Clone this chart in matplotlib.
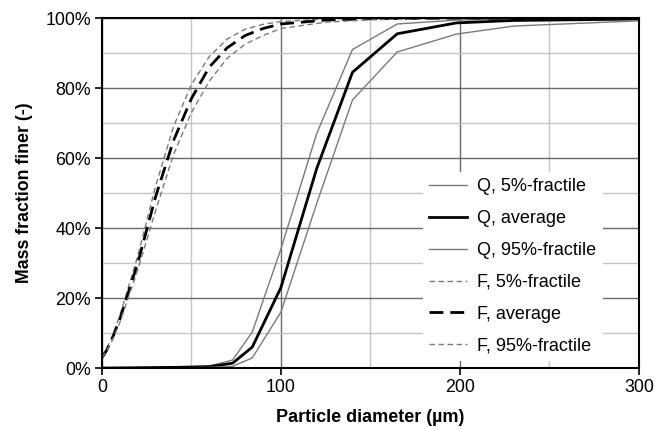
import numpy as np
import matplotlib.pyplot as plt
from matplotlib.ticker import MultipleLocator, PercentFormatter

plt.rcParams['font.family'] = ['Liberation Sans', 'DejaVu Sans']
plt.rcParams['font.size'] = 12.8

# Q (coarse) grading curves
q_x = [0, 20, 40, 60, 73, 84, 100, 120, 140, 165, 198, 230, 300]
q_p05 = [0, 0.1, 0.3, 0.6, 2.3, 10.3, 34, 67, 91, 98.3, 99.4, 99.7, 100]
q_avg = [0, 0.1, 0.2, 0.4, 1.4, 6, 23, 57, 84.5, 95.5, 98.6, 99.3, 99.7]
q_p95 = [0, 0, 0.1, 0.2, 0.5, 2.9, 16, 47, 76.6, 90.3, 95.4, 97.7, 99.2]

# F (fine) grading curves
f_x = [0, 2, 5, 10, 20, 30, 40, 50, 60, 70, 80, 90, 100, 125, 150, 200, 300]
f_p05 = [3.5, 5, 8, 15, 32, 52, 69, 81, 89, 94, 96.8, 98.2, 99, 99.7, 100, 100, 100]
f_avg = [3, 4.5, 7.5, 14, 30, 49, 65, 77, 86, 91.5, 95, 97, 98.3, 99.4, 99.8, 100, 100]
f_p95 = [3, 4.5, 7, 13, 28, 45, 61, 73, 82, 88.5, 92.5, 95, 97, 98.8, 99.5, 100, 100]

fig = plt.figure(figsize=(6.62, 4.29), dpi=100)
ax = fig.add_axes([0.154, 0.142, 0.811, 0.816])

grey = '#7a7a7a'
ax.plot(q_x, q_p05, color=grey, lw=1.0, label='Q, 5%-fractile')
ax.plot(q_x, q_avg, color='black', lw=2.0, label='Q, average')
ax.plot(q_x, q_p95, color=grey, lw=1.0, label='Q, 95%-fractile')
ax.plot(f_x, f_p05, color=grey, lw=1.0, ls=(0, (4, 2.5)), label='F, 5%-fractile')
ax.plot(f_x, f_avg, color='black', lw=2.0, ls=(0, (5, 2.5)), label='F, average')
ax.plot(f_x, f_p95, color=grey, lw=1.0, ls=(0, (4, 2.5)), label='F, 95%-fractile')

ax.set_xlim(0, 300)
ax.set_ylim(0, 100)
ax.xaxis.set_major_locator(MultipleLocator(100))
ax.xaxis.set_minor_locator(MultipleLocator(50))
ax.yaxis.set_major_locator(MultipleLocator(20))
ax.yaxis.set_minor_locator(MultipleLocator(10))
ax.yaxis.set_major_formatter(PercentFormatter(decimals=0))

ax.grid(which='major', color='#6a6a6a', lw=1.0)
ax.grid(which='minor', color='#c4c4c4', lw=1.0)
ax.set_axisbelow(True)
ax.tick_params(which='major', direction='out', length=5, width=1.2, pad=3)
ax.tick_params(which='minor', length=0)
for s in ax.spines.values():
    s.set_linewidth(1.5)
    s.set_color('black')

ax.set_xlabel('Particle diameter (µm)', fontweight='bold', fontsize=13, labelpad=9)
ax.set_ylabel('Mass fraction finer (-)', fontweight='bold', fontsize=12.8, labelpad=9)

leg = ax.legend(loc='lower left', bbox_to_anchor=(0.581, -0.005), frameon=True,
                edgecolor='none', facecolor='white', framealpha=1, fontsize=13,
                handlelength=2.1, labelspacing=0.82, borderpad=0.35, handletextpad=0.55)
leg.get_frame().set_linewidth(0)

fig.savefig('out.png', dpi=100)
